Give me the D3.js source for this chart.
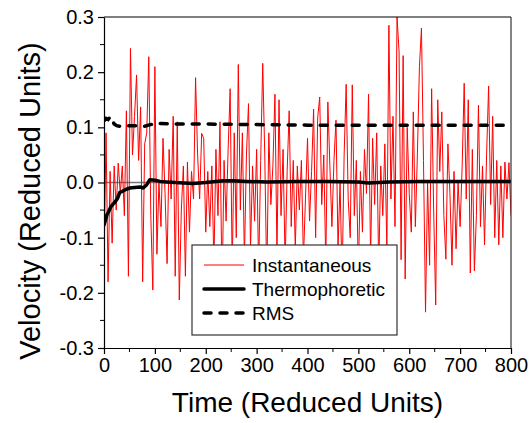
<!DOCTYPE html>
<html lang="en">
<head>
<meta charset="UTF-8">
<title>Velocity vs Time</title>
<script src="https://d3js.org/d3.v7.min.js"></script>
<style>
  body { margin: 0; background: #fff; }
  text { font-family: "Liberation Sans", Arial, Helvetica, sans-serif; fill: #000; }
</style>
</head>
<body>
<div id="chart"></div>
<script>
// instantaneous velocity, sampled every 4 time units from 0 to 800
let instStep = 4
let instV = [
  -0.15, 0.09, -0.18, 0.02, -0.11, 0.03, -0.05, 0.035, -0.02, 0.03,
  -0.06, 0.13, -0.17, 0.243, 0.05, 0.12, 0.195, 0.04, 0.137, -0.18,
  0.07, 0.09, 0.228, -0.06, -0.195, 0.21, -0.13, 0.0, -0.08, 0.08,
  -0.02, -0.147, 0.06, -0.03, 0.12, -0.17, 0.11, -0.213, -0.05, 0.03,
  -0.17, 0.037, -0.09, 0.02, -0.03, 0.19, 0.05, -0.03, 0.089, 0.08,
  -0.09, 0.02, -0.08, 0.03, -0.15, 0.06, -0.06, 0.11, -0.2, 0.04,
  -0.07, 0.06, 0.17, -0.16, 0.09, -0.1, 0.214, -0.05, 0.09, -0.14,
  0.05, 0.143, -0.12, 0.03, -0.07, 0.06, -0.16, 0.04, 0.216, 0.05,
  -0.18, 0.09, -0.04, 0.03, 0.16, -0.13, 0.15, -0.06, 0.06, -0.15,
  0.02, 0.13, -0.08, 0.04, -0.12, 0.03, -0.05, 0.04, -0.14, -0.03,
  0.08, -0.07, 0.02, 0.133, -0.1, 0.117, 0.155, -0.04, 0.05, -0.15,
  0.146, 0.03, -0.08, 0.04, 0.113, -0.12, 0.0, -0.18, 0.05, 0.178,
  -0.03, -0.1, 0.177, -0.06, 0.04, -0.17, 0.02, -0.09, 0.06, -0.02,
  0.16, -0.14, 0.08, -0.04, 0.09, -0.16, 0.03, -0.06, 0.07, -0.12,
  0.285, -0.03, 0.12, -0.08, 0.3, 0.237, -0.14, 0.23, -0.175, 0.1,
  -0.02, -0.09, 0.128, -0.08, 0.05, 0.21, 0.28, 0.04, -0.235, 0.0,
  -0.15, 0.17, -0.05, -0.222, 0.15, 0.02, 0.128, -0.06, -0.139, 0.07,
  -0.02, -0.15, 0.02, -0.12, 0.0, -0.08, 0.03, 0.18, -0.03, 0.15,
  -0.164, 0.06, -0.16, -0.06, 0.14, -0.08, 0.03, -0.113, 0.05, 0.175,
  -0.04, 0.12, -0.1, 0.04, -0.113, 0.03, -0.1, 0.037, -0.03, 0.036,
  -0.06
]

// thermophoretic (running mean) velocity
let thermoT = [0, 3, 6, 9, 13, 17, 22, 27, 31, 36, 42, 51, 60, 71, 77, 84, 90, 100, 110, 123, 140, 156, 175, 200, 235, 255, 280, 320, 380, 440, 500, 520, 560, 620, 700, 800]
let thermoV = [-0.077, -0.068, -0.058, -0.053, -0.045, -0.04, -0.035, -0.028, -0.018, -0.016, -0.013, -0.01, -0.009, -0.008, -0.01, -0.004, 0.005, 0.004, 0.002, 0.001, 0.0, -0.001, -0.002, 0.0, 0.003, 0.003, 0.002, 0.001, 0.002, 0.002, 0.001, -0.001, 0.001, 0.002, 0.002, 0.002]

// RMS velocity
let rmsT = [0, 4, 8, 12, 16, 20, 25, 30, 40, 60, 80, 100, 150, 200, 300, 400, 500, 600, 700, 800]
let rmsV = [0.112, 0.116, 0.114, 0.119, 0.113, 0.106, 0.103, 0.102, 0.103, 0.103, 0.102, 0.107, 0.106, 0.106, 0.105, 0.104, 0.104, 0.104, 0.104, 0.104]

let xTicks = [0, 100, 200, 300, 400, 500, 600, 700, 800]
let yTicks = [-0.3, -0.2, -0.1, 0.0, 0.1, 0.2, 0.3]
let legendLabels = ["Instantaneous", "Thermophoretic", "RMS"]

let width = 532
    height = 423
    margin = {top: 17, right: 21, bottom: 75, left: 104}

let svg = d3.select("#chart")
  .append("svg")
    .attr("width", width)
    .attr("height", height)

let x = d3.scaleLinear().domain([0, 800]).range([margin.left, width - margin.right])
let y = d3.scaleLinear().domain([-0.3, 0.3]).range([height - margin.bottom, margin.top])

svg.append("clipPath").attr("id", "plot")
  .append("rect")
    .attr("x", x(0)).attr("y", y(0.3))
    .attr("width", x(800) - x(0)).attr("height", y(-0.3) - y(0.3))

let inst = instV.map((v, i) => [i * instStep, v])
let thermo = thermoT.map((t, i) => [t, thermoV[i]])
let rms = rmsT.map((t, i) => [t, rmsV[i]])

let line = d3.line().x(d => x(d[0])).y(d => y(d[1]))

let plot = svg.append("g").attr("clip-path", "url(#plot)")

// zero line
plot.append("line")
  .attr("x1", x(0)).attr("x2", x(800))
  .attr("y1", y(0)).attr("y2", y(0))
  .attr("stroke", "#777").attr("stroke-width", 1.5)

plot.append("path").datum(inst)
  .attr("d", line)
  .attr("fill", "none")
  .attr("stroke", "#ff0000")
  .attr("stroke-width", 1)

plot.append("path").datum(rms)
  .attr("d", line)
  .attr("fill", "none")
  .attr("stroke", "#000")
  .attr("stroke-width", 3.5)
  .attr("stroke-linecap", "round")
  .attr("stroke-dasharray", "7,9")

plot.append("path").datum(thermo)
  .attr("d", line)
  .attr("fill", "none")
  .attr("stroke", "#000")
  .attr("stroke-width", 3.5)
  .attr("stroke-linecap", "round")
  .attr("stroke-linejoin", "round")

// frame (top and right)
svg.append("line")
  .attr("x1", x(0)).attr("x2", x(800)).attr("y1", y(0.3)).attr("y2", y(0.3))
  .attr("stroke", "#000").attr("stroke-width", 1.2)
svg.append("line")
  .attr("x1", x(800)).attr("x2", x(800)).attr("y1", y(0.3)).attr("y2", y(-0.3))
  .attr("stroke", "#333").attr("stroke-width", 1.2)

// axes with minor ticks
let xMinor = d3.range(50, 800, 100)
let yMinor = d3.range(-0.25, 0.3, 0.1)

let xAxis = svg.append("g")
  .attr("transform", "translate(0," + y(-0.3) + ")")
  .call(d3.axisBottom(x).tickValues(xTicks).tickSize(6).tickSizeOuter(0).tickPadding(4).tickFormat(d3.format("d")))
xAxis.selectAll("g.minor").data(xMinor).enter()
  .append("line")
    .attr("x1", d => x(d)).attr("x2", d => x(d))
    .attr("y1", 0).attr("y2", 4)
    .attr("stroke", "#000")

let yAxis = svg.append("g")
  .attr("transform", "translate(" + x(0) + ",0)")
  .call(d3.axisLeft(y).tickValues(yTicks).tickSize(6).tickSizeOuter(0).tickPadding(4).tickFormat(d3.format(".1f")))
yAxis.selectAll("g.minor").data(yMinor).enter()
  .append("line")
    .attr("y1", d => y(d)).attr("y2", d => y(d))
    .attr("x1", 0).attr("x2", -4)
    .attr("stroke", "#000")

svg.selectAll(".domain").attr("stroke", "#000").attr("stroke-width", 1.2)
svg.selectAll(".tick line").attr("stroke-width", 1.2)
svg.selectAll(".tick text")
  .style("font-size", "20px")
  .style("font-family", "'Liberation Sans', Arial, sans-serif")
  .text(function(d) { return d3.select(this).text().replace("\u2212", "-") })

// axis titles
svg.append("text")
  .attr("x", (x(0) + x(800)) / 2)
  .attr("y", 412)
  .attr("text-anchor", "middle")
  .style("font-size", "28px")
  .text("Time (Reduced Units)")

svg.append("text")
  .attr("transform", "translate(40,201) rotate(-90)")
  .attr("text-anchor", "middle")
  .style("font-size", "29px")
  .text("Velocity (Reduced Units)")

// legend
let legend = svg.append("g")
legend.append("rect")
  .attr("x", 192).attr("y", 245)
  .attr("width", 205).attr("height", 90)
  .attr("fill", "#fff").attr("stroke", "#333").attr("stroke-width", 1.2)

let legendStyles = [
  {stroke: "#ff0000", width: 1, dash: null},
  {stroke: "#000", width: 3.5, dash: null},
  {stroke: "#000", width: 3.5, dash: "7,9"}
]
legendLabels.forEach(function(label, i) {
  let ly = 265 + i * 24
  legend.append("line")
    .attr("x1", 204).attr("x2", 244)
    .attr("y1", ly).attr("y2", ly)
    .attr("stroke", legendStyles[i].stroke)
    .attr("stroke-width", legendStyles[i].width)
    .attr("stroke-linecap", i == 0 ? "butt" : "round")
    .attr("stroke-dasharray", legendStyles[i].dash)
  legend.append("text")
    .attr("x", 252).attr("y", ly + 7)
    .style("font-size", "19px")
    .text(label)
})
</script>
</body>
</html>
